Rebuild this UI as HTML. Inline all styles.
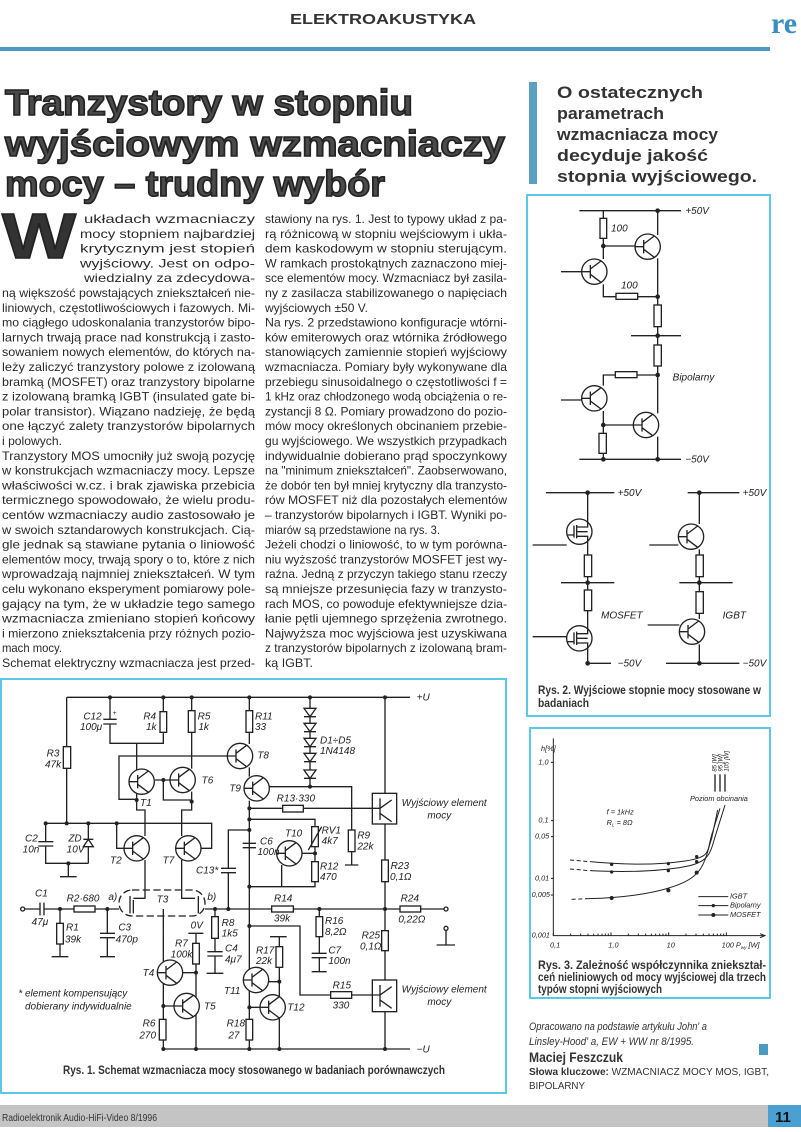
<!DOCTYPE html>
<html><head><meta charset="utf-8"><style>
html,body{margin:0;padding:0;background:#fff;width:801px;height:1132px;overflow:hidden}
svg{display:block}
.b{font-family:"Liberation Sans",sans-serif;font-size:12px;fill:#2a2a2a}
.lab{font-family:"Liberation Sans",sans-serif;font-style:italic;fill:#222}
</style></head><body>
<svg width="801" height="1132" viewBox="0 0 801 1132" xmlns="http://www.w3.org/2000/svg">
<defs>
<g id="q" fill="none" stroke="#222" stroke-width="4">
<circle r="38" fill="#fff"/><path d="M-38 0H-12M-12 -20V20M-12 -8L20 -32M-12 8L20 32"/>
</g>
<g id="m" fill="none" stroke="#222" stroke-width="4">
<circle r="38" fill="#fff"/><path d="M-38 10H-16M-16 -18V18M-8 -20V20M-8 -14H25V-38M-8 14H25V38M-8 0H25"/>
</g>
</defs>

<text x="290" y="24" font-family="Liberation Sans,sans-serif" font-weight="bold" font-size="15" fill="#333" textLength="186" lengthAdjust="spacingAndGlyphs">ELEKTROAKUSTYKA</text>
<text x="771" y="33" font-family="Liberation Serif,serif" font-weight="bold" font-size="30" fill="#3a8fc0">re</text>
<rect x="0" y="47" width="770" height="4" fill="#4a9bbf"/>

<g font-family="Liberation Sans,sans-serif" font-weight="bold" font-size="36" fill="#4a4a4a" stroke="#222" stroke-width="1.6">
<text x="5" y="115" textLength="408" lengthAdjust="spacingAndGlyphs">Tranzystory w stopniu</text>
<text x="5" y="156" textLength="500" lengthAdjust="spacingAndGlyphs">wyjściowym wzmacniaczy</text>
<text x="5" y="196" textLength="380" lengthAdjust="spacingAndGlyphs">mocy – trudny wybór</text>
</g>

<rect x="529" y="82" width="8" height="102" fill="#5aa0c0"/>
<g font-family="Liberation Sans,sans-serif" font-weight="bold" font-size="17" fill="#333">
<text x="557" y="98" textLength="146" lengthAdjust="spacingAndGlyphs">O ostatecznych</text>
<text x="557" y="119" textLength="107" lengthAdjust="spacingAndGlyphs">parametrach</text>
<text x="557" y="140" textLength="161" lengthAdjust="spacingAndGlyphs">wzmacniacza mocy</text>
<text x="557" y="161" textLength="151" lengthAdjust="spacingAndGlyphs">decyduje jakość</text>
<text x="557" y="182" textLength="200" lengthAdjust="spacingAndGlyphs">stopnia wyjściowego.</text>
</g>

<text x="2" y="258" font-family="Liberation Sans,sans-serif" font-weight="bold" font-size="64" fill="#333" stroke="#222" stroke-width="1.5" textLength="74" lengthAdjust="spacingAndGlyphs">W</text>

<g class="b">
<text x="84" y="223" textLength="171" lengthAdjust="spacingAndGlyphs">układach wzmacniaczy</text>
<text x="80" y="237.8" textLength="175" lengthAdjust="spacingAndGlyphs">mocy stopniem najbardziej</text>
<text x="80" y="252.6" textLength="175" lengthAdjust="spacingAndGlyphs">krytycznym jest stopień</text>
<text x="80" y="267.4" textLength="175" lengthAdjust="spacingAndGlyphs">wyjściowy. Jest on odpo-</text>
<text x="84" y="282.2" textLength="171" lengthAdjust="spacingAndGlyphs">wiedzialny za zdecydowa-</text>
<text x="2" y="297" textLength="253" lengthAdjust="spacingAndGlyphs">ną większość powstających zniekształceń nie-</text>
<text x="2" y="311.8" textLength="253" lengthAdjust="spacingAndGlyphs">liniowych, częstotliwościowych i fazowych. Mi-</text>
<text x="2" y="326.6" textLength="253" lengthAdjust="spacingAndGlyphs">mo ciągłego udoskonalania tranzystorów bipo-</text>
<text x="2" y="341.4" textLength="253" lengthAdjust="spacingAndGlyphs">larnych trwają prace nad konstrukcją i zasto-</text>
<text x="2" y="356.2" textLength="253" lengthAdjust="spacingAndGlyphs">sowaniem nowych elementów, do których na-</text>
<text x="2" y="371" textLength="253" lengthAdjust="spacingAndGlyphs">leży zaliczyć tranzystory polowe z izolowaną</text>
<text x="2" y="385.8" textLength="253" lengthAdjust="spacingAndGlyphs">bramką (MOSFET) oraz tranzystory bipolarne</text>
<text x="2" y="400.6" textLength="253" lengthAdjust="spacingAndGlyphs">z izolowaną bramką IGBT (insulated gate bi-</text>
<text x="2" y="415.4" textLength="253" lengthAdjust="spacingAndGlyphs">polar transistor). Wiązano nadzieję, że będą</text>
<text x="2" y="430.2" textLength="253" lengthAdjust="spacingAndGlyphs">one łączyć zalety tranzystorów bipolarnych</text>
<text x="2" y="445" textLength="60" lengthAdjust="spacingAndGlyphs">i polowych.</text>
<text x="2" y="459.8" textLength="253" lengthAdjust="spacingAndGlyphs">Tranzystory MOS umocniły już swoją pozycję</text>
<text x="2" y="474.6" textLength="253" lengthAdjust="spacingAndGlyphs">w konstrukcjach wzmacniaczy mocy. Lepsze</text>
<text x="2" y="489.4" textLength="253" lengthAdjust="spacingAndGlyphs">właściwości w.cz. i brak zjawiska przebicia</text>
<text x="2" y="504.2" textLength="253" lengthAdjust="spacingAndGlyphs">termicznego spowodowało, że wielu produ-</text>
<text x="2" y="519" textLength="253" lengthAdjust="spacingAndGlyphs">centów wzmacniaczy audio zastosowało je</text>
<text x="2" y="533.8" textLength="253" lengthAdjust="spacingAndGlyphs">w swoich sztandarowych konstrukcjach. Cią-</text>
<text x="2" y="548.6" textLength="253" lengthAdjust="spacingAndGlyphs">gle jednak są stawiane pytania o liniowość</text>
<text x="2" y="563.4" textLength="253" lengthAdjust="spacingAndGlyphs">elementów mocy, trwają spory o to, które z nich</text>
<text x="2" y="578.2" textLength="253" lengthAdjust="spacingAndGlyphs">wprowadzają najmniej zniekształceń. W tym</text>
<text x="2" y="593" textLength="253" lengthAdjust="spacingAndGlyphs">celu wykonano eksperyment pomiarowy pole-</text>
<text x="2" y="607.8" textLength="253" lengthAdjust="spacingAndGlyphs">gający na tym, że w układzie tego samego</text>
<text x="2" y="622.6" textLength="253" lengthAdjust="spacingAndGlyphs">wzmacniacza zmieniano stopień końcowy</text>
<text x="2" y="637.4" textLength="253" lengthAdjust="spacingAndGlyphs">i mierzono zniekształcenia przy różnych pozio-</text>
<text x="2" y="652.2" textLength="60" lengthAdjust="spacingAndGlyphs">mach mocy.</text>
<text x="2" y="667" textLength="253" lengthAdjust="spacingAndGlyphs">Schemat elektryczny wzmacniacza jest przed-</text>
</g>

<g class="b">
<text x="265" y="223" textLength="242" lengthAdjust="spacingAndGlyphs">stawiony na rys. 1. Jest to typowy układ z pa-</text>
<text x="265" y="237.8" textLength="242" lengthAdjust="spacingAndGlyphs">rą różnicową w stopniu wejściowym i ukła-</text>
<text x="265" y="252.6" textLength="242" lengthAdjust="spacingAndGlyphs">dem kaskodowym w stopniu sterującym.</text>
<text x="265" y="267.4" textLength="242" lengthAdjust="spacingAndGlyphs">W ramkach prostokątnych zaznaczono miej-</text>
<text x="265" y="282.2" textLength="242" lengthAdjust="spacingAndGlyphs">sce elementów mocy. Wzmacniacz był zasila-</text>
<text x="265" y="297" textLength="242" lengthAdjust="spacingAndGlyphs">ny z zasilacza stabilizowanego o napięciach</text>
<text x="265" y="311.8" textLength="103" lengthAdjust="spacingAndGlyphs">wyjściowych ±50 V.</text>
<text x="265" y="326.6" textLength="242" lengthAdjust="spacingAndGlyphs">Na rys. 2 przedstawiono konfiguracje wtórni-</text>
<text x="265" y="341.4" textLength="242" lengthAdjust="spacingAndGlyphs">ków emiterowych oraz wtórnika źródłowego</text>
<text x="265" y="356.2" textLength="242" lengthAdjust="spacingAndGlyphs">stanowiących zamiennie stopień wyjściowy</text>
<text x="265" y="371" textLength="242" lengthAdjust="spacingAndGlyphs">wzmacniacza. Pomiary były wykonywane dla</text>
<text x="265" y="385.8" textLength="242" lengthAdjust="spacingAndGlyphs">przebiegu sinusoidalnego o częstotliwości f =</text>
<text x="265" y="400.6" textLength="242" lengthAdjust="spacingAndGlyphs">1 kHz oraz chłodzonego wodą obciążenia o re-</text>
<text x="265" y="415.4" textLength="242" lengthAdjust="spacingAndGlyphs">zystancji 8 Ω. Pomiary prowadzono do pozio-</text>
<text x="265" y="430.2" textLength="242" lengthAdjust="spacingAndGlyphs">mów mocy określonych obcinaniem przebie-</text>
<text x="265" y="445" textLength="242" lengthAdjust="spacingAndGlyphs">gu wyjściowego. We wszystkich przypadkach</text>
<text x="265" y="459.8" textLength="242" lengthAdjust="spacingAndGlyphs">indywidualnie dobierano prąd spoczynkowy</text>
<text x="265" y="474.6" textLength="242" lengthAdjust="spacingAndGlyphs">na "minimum zniekształceń". Zaobserwowano,</text>
<text x="265" y="489.4" textLength="242" lengthAdjust="spacingAndGlyphs">że dobór ten był mniej krytyczny dla tranzysto-</text>
<text x="265" y="504.2" textLength="242" lengthAdjust="spacingAndGlyphs">rów MOSFET niż dla pozostałych elementów</text>
<text x="265" y="519" textLength="242" lengthAdjust="spacingAndGlyphs">– tranzystorów bipolarnych i IGBT. Wyniki po-</text>
<text x="265" y="533.8" textLength="175" lengthAdjust="spacingAndGlyphs">miarów są przedstawione na rys. 3.</text>
<text x="265" y="548.6" textLength="242" lengthAdjust="spacingAndGlyphs">Jeżeli chodzi o liniowość, to w tym porówna-</text>
<text x="265" y="563.4" textLength="242" lengthAdjust="spacingAndGlyphs">niu wyższość tranzystorów MOSFET jest wy-</text>
<text x="265" y="578.2" textLength="242" lengthAdjust="spacingAndGlyphs">raźna. Jedną z przyczyn takiego stanu rzeczy</text>
<text x="265" y="593" textLength="242" lengthAdjust="spacingAndGlyphs">są mniejsze przesunięcia fazy w tranzysto-</text>
<text x="265" y="607.8" textLength="242" lengthAdjust="spacingAndGlyphs">rach MOS, co powoduje efektywniejsze dzia-</text>
<text x="265" y="622.6" textLength="242" lengthAdjust="spacingAndGlyphs">łanie pętli ujemnego sprzężenia zwrotnego.</text>
<text x="265" y="637.4" textLength="242" lengthAdjust="spacingAndGlyphs">Najwyższa moc wyjściowa jest uzyskiwana</text>
<text x="265" y="652.2" textLength="242" lengthAdjust="spacingAndGlyphs">z tranzystorów bipolarnych z izolowaną bram-</text>
<text x="265" y="667" textLength="48" lengthAdjust="spacingAndGlyphs">ką IGBT.</text>
</g>

<rect x="527" y="195" width="243" height="521" fill="none" stroke="#5cc8e8" stroke-width="2"/>
<svg x="526" y="190" width="250" height="530" viewBox="0 0 750 1590">
<g fill="none" stroke="#222" stroke-width="4">
<path d="M160 62H465M395 62V135M395 205V345M395 410V465M395 528V670M395 740V808M232 62V85M232 145V207M232 168H327M232 283V320H270M335 320H395M105 245H167M315 437H465M395 555H333M268 555H232V587M105 630H167M232 663V730M232 705H322M232 790V808M160 808H465"/>
<rect x="222" y="85" width="20" height="60" fill="#fff"/><rect x="270" y="310" width="65" height="18" fill="#fff"/>
<rect x="384" y="345" width="22" height="65" fill="#fff"/><rect x="384" y="465" width="22" height="63" fill="#fff"/>
<rect x="268" y="545" width="65" height="18" fill="#fff"/><rect x="219" y="730" width="22" height="60" fill="#fff"/>
<path d="M60 908H265M185 908V987M185 1063V1095M185 1160V1200M185 1262V1307M185 1383V1420H255M20 1065H122M105 1178H265M20 1340H122"/>
<rect x="175" y="1095" width="22" height="65" fill="#fff"/><rect x="175" y="1200" width="22" height="62" fill="#fff"/>
<path d="M485 908H640M520 908V1002M520 1078V1095M520 1160V1205M520 1270V1287M520 1363V1420M420 1420H640M370 1065H457M460 1178H620M365 1305H460"/>
<rect x="510" y="1095" width="22" height="65" fill="#fff"/><rect x="510" y="1205" width="22" height="65" fill="#fff"/>
</g>
<use href="#q" x="365" y="170"/><use href="#q" x="205" y="245"/><use href="#q" x="205" y="625"/><use href="#q" x="360" y="705"/>
<use href="#m" x="160" y="1025"/><use href="#m" x="160" y="1345"/><use href="#q" x="495" y="1040"/><use href="#q" x="498" y="1325"/>
<g fill="#222"><circle cx="395" cy="62" r="7"/><circle cx="232" cy="168" r="7"/><circle cx="395" cy="320" r="7"/><circle cx="395" cy="437" r="7"/><circle cx="395" cy="555" r="7"/><circle cx="232" cy="705" r="7"/><circle cx="395" cy="808" r="7"/><circle cx="232" cy="808" r="7"/><circle cx="185" cy="908" r="7"/><circle cx="185" cy="1178" r="7"/><circle cx="520" cy="908" r="7"/><circle cx="520" cy="1178" r="7"/><circle cx="185" cy="1420" r="7"/><circle cx="520" cy="1420" r="7"/></g>
<g class="lab" font-size="30">
<text x="478" y="72">+50V</text><text x="255" y="125">100</text><text x="285" y="295">100</text>
<text x="440" y="572">Bipolarny</text><text x="478" y="818">−50V</text>
<text x="275" y="918">+50V</text><text x="650" y="918">+50V</text>
<text x="225" y="1285">MOSFET</text><text x="590" y="1285">IGBT</text>
<text x="275" y="1430">−50V</text><text x="650" y="1430">−50V</text>
</g>
</svg>
<g font-family="Liberation Sans,sans-serif" font-weight="bold" font-size="12" fill="#333">
<text x="538" y="694" textLength="223" lengthAdjust="spacingAndGlyphs">Rys. 2. Wyjściowe stopnie mocy stosowane w</text>
<text x="538" y="707" textLength="51" lengthAdjust="spacingAndGlyphs">badaniach</text>
</g>

<rect x="1" y="679" width="505" height="414" fill="none" stroke="#5cc8e8" stroke-width="2"/>
<svg x="0" y="680" width="510" height="420" viewBox="0 0 1530 1260">
<g fill="none" stroke="#222" stroke-width="4">
<path d="M200 52H1230M490 1107H1230"/>
<path d="M200 52V200M200 265V430M330 52V118M310 118H350M310 132H350M330 132V190H490V157M490 52V95M410 190V270M575 52V92M575 157V266M748 52V92M748 157V192"/>
<rect x="190" y="200" width="22" height="65" fill="#fff"/><rect x="480" y="95" width="20" height="62" fill="#fff"/><rect x="565" y="92" width="20" height="65" fill="#fff"/><rect x="738" y="92" width="20" height="65" fill="#fff"/>
<path d="M682 228H357V358H410M465 300H510M490 300V360H575M410 340V390H435V468M575 335V390H545V468"/>
<path d="M137 430H635V505H603M350 430V505H372M137 430V485M115 485H160M115 498H160M137 498V550H265M205 550V590M180 590H230M265 430V550M250 478H280"/>
<path d="M250 500L280 500L265 478Z" fill="#fff"/>
<path d="M435 540V655H400M390 648V700M400 660V700M545 540V655H585M595 648V700"/>
<rect x="357" y="630" width="258" height="78" rx="39" stroke-dasharray="22 10"/>
<path d="M74 687H120M120 668V706M132 668V706M132 687H222M285 687H357M180 687V730M180 792V830M155 830H205M322 687V760M300 760H345M300 773H345M322 773V830M300 830H345"/>
<rect x="222" y="678" width="63" height="18" fill="#fff"/><rect x="170" y="730" width="20" height="62" fill="#fff"/>
<circle cx="68" cy="687" r="6"/><circle cx="1338" cy="687" r="6"/>
<path d="M615 687H815M880 687H1200M1262 687H1332"/>
<rect x="815" y="678" width="65" height="18" fill="#fff"/><rect x="1200" y="678" width="62" height="18" fill="#fff"/>
<path d="M685 687V578M663 578H708M663 565H708M685 565V450H748"/>
<path d="M748 262V290M748 362V1018M748 1080V1107M728 490H768M728 503H768"/>
<rect x="738" y="1018" width="20" height="62" fill="#fff"/>
<path d="M930 52V320M800 320H1055V450M1055 515V555M1035 555H1075"/>
<path d="M912 85H948L930 110ZM912 130H948L930 155ZM912 175H948L930 200ZM912 220H948L930 245ZM912 270H948L930 295Z" fill="#fff"/>
<path d="M912 110H948M912 155H948M912 200H948M912 245H948M912 295H948"/>
<rect x="1045" y="450" width="20" height="65" fill="#fff"/>
<path d="M748 385H848M910 385H1117"/><rect x="848" y="376" width="62" height="20" fill="#fff"/>
<rect x="1117" y="340" width="73" height="92" fill="#fff"/><rect x="1117" y="900" width="73" height="95" fill="#fff"/>
<path d="M1140 355V420M1140 385L1175 360M1140 400L1175 425M1140 915V980M1140 945L1175 920M1140 960L1175 985M1117 385H1140M1117 945H1140"/>
<path d="M1155 52V340M1155 432V540M1155 605V752M1155 812V900M1155 995V1107"/>
<rect x="1145" y="540" width="20" height="65" fill="#fff"/><rect x="1145" y="752" width="20" height="60" fill="#fff"/>
<path d="M748 418H945V440M945 500V545M945 605V620H748M906 520H945M845 555V620"/>
<rect x="935" y="440" width="20" height="60" fill="#fff"/><rect x="935" y="545" width="20" height="60" fill="#fff"/>
<path d="M925 510L965 440"/>
<path d="M645 687V710M645 775V815M622 815H668M622 828H668M645 828V880M620 880H670"/>
<rect x="635" y="710" width="20" height="65" fill="#fff"/>
<path d="M588 760V790M588 852V1107M565 760H610M548 878H588M490 687V845M490 912V1018M490 1080V1107M522 978H490"/>
<rect x="578" y="790" width="20" height="62" fill="#fff"/><rect x="478" y="1018" width="20" height="62" fill="#fff"/>
<path d="M838 770V800M838 862V1107M810 770H860M806 905H838M748 982H780"/>
<rect x="828" y="800" width="20" height="62" fill="#fff"/>
<path d="M748 738H900V945H992M1055 945H1117"/><rect x="992" y="935" width="63" height="20" fill="#fff"/>
<path d="M958 687V710M958 770V820M935 820H980M935 833H980M958 833V875M935 875H980"/>
<rect x="948" y="710" width="20" height="60" fill="#fff"/>
<circle cx="1338" cy="745" r="6"/><path d="M1338 751V795M1310 795H1365"/>
</g>
<use href="#q" x="425" y="305"/><use href="#q" x="548" y="300"/><use href="#q" x="720" y="228"/><use href="#q" x="770" y="325"/>
<use href="#q" x="410" y="505"/><use href="#q" x="565" y="505"/><use href="#q" x="868" y="520"/>
<use href="#q" x="510" y="878"/><use href="#q" x="560" y="978"/><use href="#q" x="768" y="900"/><use href="#q" x="818" y="982"/>
<g fill="#222"><circle cx="330" cy="52" r="6"/><circle cx="490" cy="52" r="6"/><circle cx="575" cy="52" r="6"/><circle cx="748" cy="52" r="6"/><circle cx="930" cy="52" r="6"/><circle cx="1155" cy="52" r="6"/><circle cx="200" cy="430" r="6"/><circle cx="350" cy="430" r="6"/><circle cx="137" cy="430" r="6"/><circle cx="265" cy="430" r="6"/><circle cx="205" cy="550" r="6"/><circle cx="180" cy="687" r="6"/><circle cx="322" cy="687" r="6"/><circle cx="645" cy="687" r="6"/><circle cx="685" cy="687" r="6"/><circle cx="958" cy="687" r="6"/><circle cx="1155" cy="687" r="6"/><circle cx="930" cy="320" r="6"/><circle cx="748" cy="385" r="6"/><circle cx="748" cy="418" r="6"/><circle cx="748" cy="450" r="6"/><circle cx="748" cy="620" r="6"/><circle cx="748" cy="738" r="6"/><circle cx="945" cy="520" r="6"/><circle cx="490" cy="300" r="6"/><circle cx="410" cy="360" r="6"/><circle cx="575" cy="365" r="6"/><circle cx="588" cy="878" r="6"/><circle cx="490" cy="978" r="6"/><circle cx="838" cy="905" r="6"/><circle cx="748" cy="982" r="6"/><circle cx="490" cy="1107" r="6"/><circle cx="588" cy="1107" r="6"/><circle cx="748" cy="1107" r="6"/><circle cx="838" cy="1107" r="6"/><circle cx="1155" cy="1107" r="6"/></g>
<g class="lab" font-size="30">
<text x="1250" y="62">+U</text><text x="1250" y="1117">−U</text>
<text x="250" y="118">C12</text><text x="240" y="150">100μ</text><text x="338" y="105" font-size="20">+</text>
<text x="430" y="118">R4</text><text x="438" y="150">1k</text><text x="593" y="118">R5</text><text x="595" y="150">1k</text>
<text x="765" y="118">R11</text><text x="765" y="150">33</text><text x="140" y="230">R3</text><text x="135" y="262">47k</text>
<text x="960" y="190">D1÷D5</text><text x="960" y="222">1N4148</text><text x="772" y="235">T8</text><text x="688" y="335">T9</text>
<text x="605" y="310">T6</text><text x="420" y="378">T1</text><text x="830" y="365">R13·330</text>
<text x="1205" y="378">Wyjściowy element</text><text x="1282" y="415">mocy</text>
<text x="1205" y="938">Wyjściowy element</text><text x="1282" y="975">mocy</text>
<text x="75" y="485">C2</text><text x="68" y="518">10n</text><text x="205" y="485">ZD</text><text x="200" y="518">10V</text>
<text x="330" y="550">T2</text><text x="488" y="550">T7</text><text x="588" y="580">C13*</text>
<text x="780" y="493">C6</text><text x="772" y="525">100n</text><text x="855" y="470">T10</text>
<text x="965" y="460">RV1</text><text x="965" y="492">4k7</text><text x="1072" y="475">R9</text><text x="1072" y="508">22k</text>
<text x="960" y="568">R12</text><text x="960" y="600">470</text><text x="1172" y="567">R23</text><text x="1170" y="600">0,1Ω</text>
<text x="105" y="650">C1</text><text x="95" y="735">47μ</text><text x="200" y="665">R2·680</text><text x="325" y="660">a)</text>
<text x="470" y="668">T3</text><text x="622" y="660">b)</text><text x="822" y="665">R14</text><text x="822" y="725">39k</text>
<text x="1202" y="665">R24</text><text x="1195" y="728">0,22Ω</text>
<text x="198" y="752">R1</text><text x="195" y="787">39k</text><text x="355" y="752">C3</text><text x="347" y="787">470p</text>
<text x="572" y="745">0V</text><text x="665" y="738">R8</text><text x="665" y="770">1k5</text>
<text x="975" y="732">R16</text><text x="975" y="765">8,2Ω</text><text x="1085" y="775">R25</text><text x="1080" y="808">0,1Ω</text>
<text x="525" y="800">R7</text><text x="512" y="832">100k</text><text x="675" y="815">C4</text><text x="675" y="848">4μ7</text>
<text x="768" y="820">R17</text><text x="768" y="852">22k</text><text x="985" y="820">C7</text><text x="985" y="852">100n</text>
<text x="428" y="888">T4</text><text x="612" y="988">T5</text><text x="672" y="942">T11</text><text x="862" y="992">T12</text>
<text x="998" y="925">R15</text><text x="998" y="985">330</text>
<text x="428" y="1040">R6</text><text x="418" y="1075">270</text><text x="680" y="1040">R18</text><text x="685" y="1075">27</text>
<text x="55" y="950">* element  kompensujący</text><text x="75" y="988">dobierany  indywidualnie</text>
</g>
</svg>
<text x="63" y="1074" font-family="Liberation Sans,sans-serif" font-weight="bold" font-size="12" fill="#333" textLength="382" lengthAdjust="spacingAndGlyphs">Rys. 1. Schemat wzmacniacza mocy stosowanego w badaniach porównawczych</text>

<rect x="530" y="728" width="240" height="270" fill="none" stroke="#5cc8e8" stroke-width="2"/>
<svg x="525" y="725" width="250" height="285" viewBox="0 0 750 855">
<g fill="none" stroke="#222" stroke-width="3">
<path d="M85 40V632H715M705 626L720 632L705 638M78 112H85M78 287H85M78 335H85M78 460H85M78 510H85"/>
<path d="M85 632V624M137 632V626M167 632V626M189 632V626M206 632V626M219 632V626M231 632V626M241 632V626M250 632V626M258 632V622M310 632V626M340 632V626M362 632V626M379 632V626M392 632V626M404 632V626M414 632V626M423 632V626M431 632V622M483 632V626M513 632V626M535 632V626M552 632V626M565 632V626M577 632V626M587 632V626M596 632V626M604 632V622"/>
<path d="M135 405L195 410M135 432L195 437M140 523L190 521" stroke-dasharray="12 8"/>
<path d="M195 410C300 420 400 420 480 408S545 380 560 330L585 250"/>
<path d="M195 437C300 442 400 440 480 425S555 380 575 320L600 240"/>
<path d="M190 521C300 518 400 505 470 475S540 400 560 340L578 255"/>
<path d="M570 148V200M585 148V200M600 148V200" stroke-width="4"/>
<path d="M520 515H610M520 542H610M520 570H610"/>
</g>
<g fill="#222"><circle cx="260" cy="418" r="5"/><circle cx="430" cy="416" r="5"/><circle cx="515" cy="395" r="5"/><circle cx="260" cy="441" r="5"/><circle cx="430" cy="437" r="5"/><circle cx="515" cy="410" r="5"/><circle cx="260" cy="519" r="6"/><circle cx="430" cy="496" r="6"/><circle cx="515" cy="443" r="6"/><circle cx="565" cy="542" r="5"/><circle cx="565" cy="570" r="6"/></g>
<g class="lab" font-size="22">
<text x="48" y="78">h[%]</text><text x="40" y="118">1,0</text><text x="40" y="293">0,1</text><text x="30" y="341">0,05</text><text x="30" y="466">0,01</text><text x="20" y="516">0,005</text><text x="20" y="638">0,001</text>
<text x="75" y="668">0,1</text><text x="250" y="668">1,0</text><text x="425" y="668">10</text><text x="590" y="668">100  P<tspan font-size="14" dy="4">wy</tspan><tspan dy="-4"> [W]</tspan></text>
<text x="495" y="228">Poziom  obcinania</text><text x="245" y="268">f = 1kHz</text><text x="245" y="300">R<tspan font-size="14" dy="4">L</tspan><tspan dy="-4"> = 8Ω</tspan></text>
<text x="615" y="521">IGBT</text><text x="615" y="548">Bipolarny</text><text x="615" y="576">MOSFET</text>
<text transform="translate(575,140) rotate(-90)" font-size="18">85 [W]</text>
<text transform="translate(593,140) rotate(-90)" font-size="18">95 [W]</text>
<text transform="translate(611,140) rotate(-90)" font-size="18">105 [W]</text>
</g>
</svg>
<g font-family="Liberation Sans,sans-serif" font-weight="bold" font-size="11.5" fill="#333">
<text x="538" y="969" textLength="228" lengthAdjust="spacingAndGlyphs">Rys. 3. Zależność współczynnika zniekształ-</text>
<text x="538" y="981" textLength="228" lengthAdjust="spacingAndGlyphs">ceń nieliniowych od mocy wyjściowej dla trzech</text>
<text x="538" y="993" textLength="124" lengthAdjust="spacingAndGlyphs">typów stopni wyjściowych</text>
</g>

<g font-family="Liberation Sans,sans-serif" fill="#333">
<text x="529" y="1030" font-style="italic" font-size="11" textLength="178" lengthAdjust="spacingAndGlyphs">Opracowano na podstawie artykułu John' a</text>
<text x="529" y="1045" font-style="italic" font-size="11" textLength="165" lengthAdjust="spacingAndGlyphs">Linsley-Hood' a, EW + WW nr 8/1995.</text>
<text x="529" y="1062" font-weight="bold" font-size="14" textLength="94" lengthAdjust="spacingAndGlyphs">Maciej Feszczuk</text>
<text x="529" y="1075" font-size="10.5" textLength="240" lengthAdjust="spacingAndGlyphs"><tspan font-weight="bold">Słowa kluczowe:</tspan> WZMACNIACZ MOCY MOS, IGBT,</text>
<text x="529" y="1089" font-size="10.5" textLength="56" lengthAdjust="spacingAndGlyphs">BIPOLARNY</text>
</g>
<rect x="759" y="1044" width="9" height="11" fill="#4a9bbf"/>

<rect x="0" y="1105" width="801" height="22" fill="#c4c4c4"/>
<text x="2" y="1121" font-family="Liberation Sans,sans-serif" font-size="10" fill="#333" textLength="155" lengthAdjust="spacingAndGlyphs">Radioelektronik Audio-HiFi-Video 8/1996</text>
<rect x="768" y="1105" width="33" height="22" fill="#4aa0d0"/>
<text x="775" y="1122" font-family="Liberation Sans,sans-serif" font-weight="bold" font-size="15" fill="#111">11</text>
</svg>
</body></html>
